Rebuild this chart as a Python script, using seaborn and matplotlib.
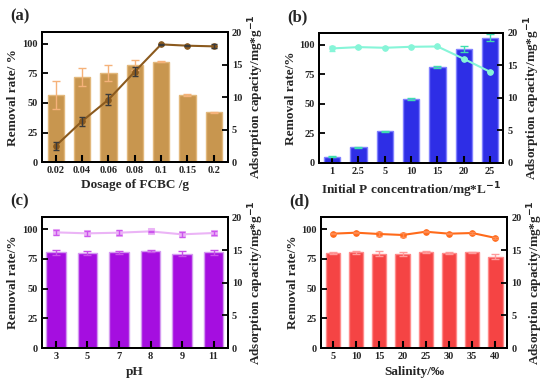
import numpy as np
import matplotlib
matplotlib.use("Agg")
import matplotlib.pyplot as plt
import seaborn as sns

sns.set_theme(style="white")
plt.rcParams['font.family'] = ['Liberation Serif', 'DejaVu Serif']
plt.rcParams['font.weight'] = 'bold'
plt.rcParams['axes.labelweight'] = 'bold'

# ---- data ----
a_cats = ["0.02", "0.04", "0.06", "0.08", "0.1", "0.15", "0.2"]
a_rate = [57, 72, 75.5, 82, 85, 56.5, 42]
a_rate_err = [12, 8, 6.5, 4, 0.4, 0.8, 0.8]
a_cap = [2.5, 6.3, 9.6, 13.9, 18.1, 17.9, 17.8]
a_cap_err = [0.6, 0.7, 0.8, 0.7, 0.1, 0.1, 0.3]

b_cats = ["1", "2.5", "5", "10", "15", "20", "25"]
b_rate = [5.2, 13.3, 26.7, 54.0, 81.0, 96.3, 106.0]
b_rate_err = [0.5, 0.4, 0.4, 0.8, 0.8, 2.5, 3.0]
b_cap = [17.6, 17.8, 17.7, 17.85, 17.9, 16.0, 14.0]
b_cap_err = [0.4, 0.1, 0.1, 0.1, 0.1, 0.1, 0.1]

c_cats = ["3", "5", "7", "8", "9", "11"]
c_rate = [80.5, 80.0, 80.5, 81.5, 79.5, 80.5]
c_rate_err = [1.8, 1.5, 1.5, 1.0, 1.8, 1.8]
c_cap = [17.7, 17.55, 17.65, 17.85, 17.4, 17.6]
c_cap_err = [0.4, 0.35, 0.35, 0.1, 0.4, 0.35]

d_cats = ["5", "10", "15", "20", "25", "30", "35", "40"]
d_rate = [80.0, 80.5, 79.5, 79.0, 81.0, 80.0, 80.5, 77.0]
d_rate_err = [1.0, 1.5, 2.0, 1.5, 0.6, 1.0, 0.6, 1.8]
d_cap = [17.5, 17.65, 17.45, 17.3, 17.8, 17.5, 17.6, 16.85]
d_cap_err = [0.1, 0.1, 0.3, 0.3, 0.1, 0.1, 0.1, 0.2]

panels = [
    dict(label="(a)", cats=a_cats, rate=a_rate, rerr=a_rate_err, cap=a_cap, cerr=a_cap_err,
         xlabel="Dosage of FCBC /g", ylabel="Removal rate/ %",
         bar="#C8964F", edge="#E2B87C", berr="#F5B27A", line="#8B5A1E", lerr="#3A3A3A",
         mk="o", rect=[0.076, 0.580, 0.338, 0.337], xoff=0.53),
    dict(label="(b)", cats=b_cats, rate=b_rate, rerr=b_rate_err, cap=b_cap, cerr=b_cap_err,
         xlabel="Initial P concentration/mg*L$^{-1}$", ylabel="Removal rate/%",
         bar="#2E2EE6", edge="#8080FF", berr="#3EDDB0", line="#86F5D8", lerr="#86F5D8",
         mk="o", rect=[0.580, 0.578, 0.335, 0.337], xoff=0.5),
    dict(label="(c)", cats=c_cats, rate=c_rate, rerr=c_rate_err, cap=c_cap, cerr=c_cap_err,
         xlabel="pH", ylabel="Removal rate/%",
         bar="#A50EE0", edge="#D49AF0", berr="#C850E8", line="#EBB4F6", lerr="#CC55EE",
         mk="s", rect=[0.076, 0.098, 0.338, 0.339], xoff=0.45),
    dict(label="(d)", cats=d_cats, rate=d_rate, rerr=d_rate_err, cap=d_cap, cerr=d_cap_err,
         xlabel="Salinity/\u2030", ylabel="Removal rate/%",
         bar="#F54444", edge="#FF8A8A", berr="#FF9A9A", line="#FF6A1A", lerr="#FF8A50",
         mk="o", rect=[0.584, 0.098, 0.338, 0.339], xoff=0.5),
]

fig = plt.figure(figsize=(5.5, 3.86), dpi=100)
fig.patch.set_facecolor("white")

for p in panels:
    ax = fig.add_axes(p["rect"])
    n = len(p["cats"])
    x = np.arange(n)
    sns.barplot(x=p["cats"], y=p["rate"], ax=ax, color=p["bar"], width=0.62,
                edgecolor=p["edge"], linewidth=1.0, saturation=1, errorbar=None)
    ax.errorbar(x, p["rate"], yerr=p["rerr"], fmt="none", ecolor=p["berr"],
                elinewidth=1.0, capsize=3, capthick=1.0, zorder=3)
    ax.set_axisbelow(False)
    ax.set_ylim(0, 110)
    ax.set_xlim(-p["xoff"], n - 1 + p["xoff"])
    ax.set_yticks([0, 25, 50, 75, 100])
    ax.set_xlabel(p["xlabel"], fontsize=9.5, fontweight="bold", labelpad=3)
    ax.set_ylabel(p["ylabel"], fontsize=9.5, fontweight="bold", labelpad=2)
    ax.tick_params(axis="both", direction="in", length=4, width=1.3, labelsize=7.5,
                   color="black", pad=3, bottom=True, left=True)
    ax.tick_params(axis="x", length=5, width=1.5)
    for s in ax.spines.values():
        s.set_color("black")
        s.set_linewidth(1.4)
    for lab in ax.get_xticklabels() + ax.get_yticklabels():
        lab.set_fontweight("bold")

    ax2 = ax.twinx()
    sns.lineplot(x=x, y=p["cap"], ax=ax2, color=p["line"], marker=p["mk"],
                 markersize=4, markeredgecolor=p["line"], linewidth=1.5)
    ax2.errorbar(x, p["cap"], yerr=p["cerr"], fmt="none", ecolor=p["lerr"],
                 elinewidth=1.0, capsize=2.5, capthick=1.0, zorder=4)
    ax2.set_ylim(0, 20)
    ax2.set_yticks([0, 5, 10, 15, 20])
    ax2.set_ylabel("Adsorption capacity/mg*g$^{-1}$", fontsize=9.5, fontweight="bold",
                   labelpad=3)
    ax2.tick_params(axis="y", direction="in", length=4, width=1.3, labelsize=7.5, pad=3,
                    right=True, color="black")
    for lab in ax2.get_yticklabels():
        lab.set_fontweight("bold")
    for s in ax2.spines.values():
        s.set_linewidth(1.4)
        s.set_color("black")
    ax2.grid(False)
    ax.grid(False)

    l, b, w, h = p["rect"]
    fig.text(l - 0.058, b + h + 0.02, p["label"], fontsize=12, fontweight="bold",
             ha="left", va="bottom")

fig.savefig("out.png", dpi=100, facecolor="white")
